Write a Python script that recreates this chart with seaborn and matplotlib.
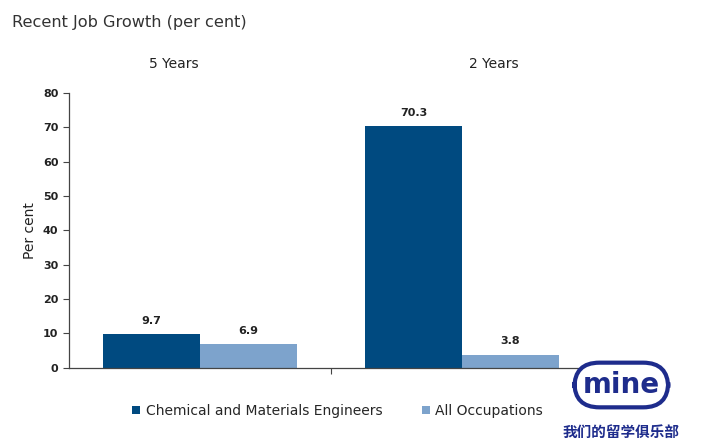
import pandas as pd
import numpy as np
import seaborn as sns
import matplotlib.pyplot as plt
from matplotlib.patches import Patch

# data
periods = ['5 Years', '2 Years']
groups = ['Chemical and Materials Engineers', 'All Occupations']
engineers = [9.7, 70.3]
all_occ = [6.9, 3.8]

df = pd.DataFrame({
    'Period': periods * 2,
    'Group': [groups[0]] * 2 + [groups[1]] * 2,
    'Value': engineers + all_occ,
})

sns.set_style('white')
plt.rcParams['font.family'] = ['DejaVu Sans', 'Noto Sans CJK SC']
colors = ['#004A80', '#7DA3CC']

fig = plt.figure(figsize=(7.02, 4.4), dpi=100)
ax = fig.add_axes([0.098, 0.164, 0.747, 0.625])

sns.barplot(data=df, x='Period', y='Value', hue='Group', palette=colors,
            width=0.74, saturation=1, linewidth=0, edgecolor='none',
            ax=ax, legend=False)

# value labels
for cont in ax.containers:
    ax.bar_label(cont, fmt='%.1f', padding=6, fontsize=8, fontweight='bold', color='#222222')

ax.set_xlim(-0.5, 1.5)
ax.set_ylim(0, 80)
ax.set_yticks(range(0, 81, 10))
ax.set_yticklabels([str(v) for v in range(0, 81, 10)], fontsize=8, fontweight='bold', color='#222222')
ax.set_xticks([0.5])
ax.set_xticklabels([''])
ax.tick_params(axis='y', direction='out', length=4, color='#444444', left=True)
ax.tick_params(axis='x', direction='out', length=4, color='#444444', bottom=True)
ax.set_xlabel('')
ax.set_ylabel('Per cent', fontsize=10, color='#222222')
sns.despine(ax=ax)
for s in ['left', 'bottom']:
    ax.spines[s].set_color('#444444')
    ax.spines[s].set_linewidth(0.9)

# period labels above the plot
ax.text(-0.1, 88.3, periods[0], ha='center', va='center', fontsize=10, color='#222222', clip_on=False)
ax.text(1.12, 88.3, periods[1], ha='center', va='center', fontsize=10, color='#222222', clip_on=False)

fig.text(0.017, 0.948, 'Recent Job Growth (per cent)', fontsize=11.6, color='#333333', va='center')

handles = [Patch(facecolor=c, edgecolor='none') for c in colors]
fig.legend(handles, groups, loc='center', bbox_to_anchor=(0.481, 0.066), ncol=2,
           frameon=False, fontsize=10, handlelength=0.6, handleheight=0.6,
           handletextpad=0.4, columnspacing=2.8)

# watermark
fig.text(0.885, 0.125, 'mine', fontsize=20, fontweight='bold', color='#1E2C8C',
         ha='center', va='center',
         bbox=dict(boxstyle='round,pad=0.3,rounding_size=0.9', facecolor='white',
                   edgecolor='#1E2C8C', linewidth=3))
fig.text(0.885, 0.018, '我们的留学俱乐部', fontsize=10.5, fontweight='bold', color='#1E2C8C',
         ha='center', va='center', family=['Noto Sans CJK SC', 'DejaVu Sans'])

fig.savefig('out.png', dpi=100)
